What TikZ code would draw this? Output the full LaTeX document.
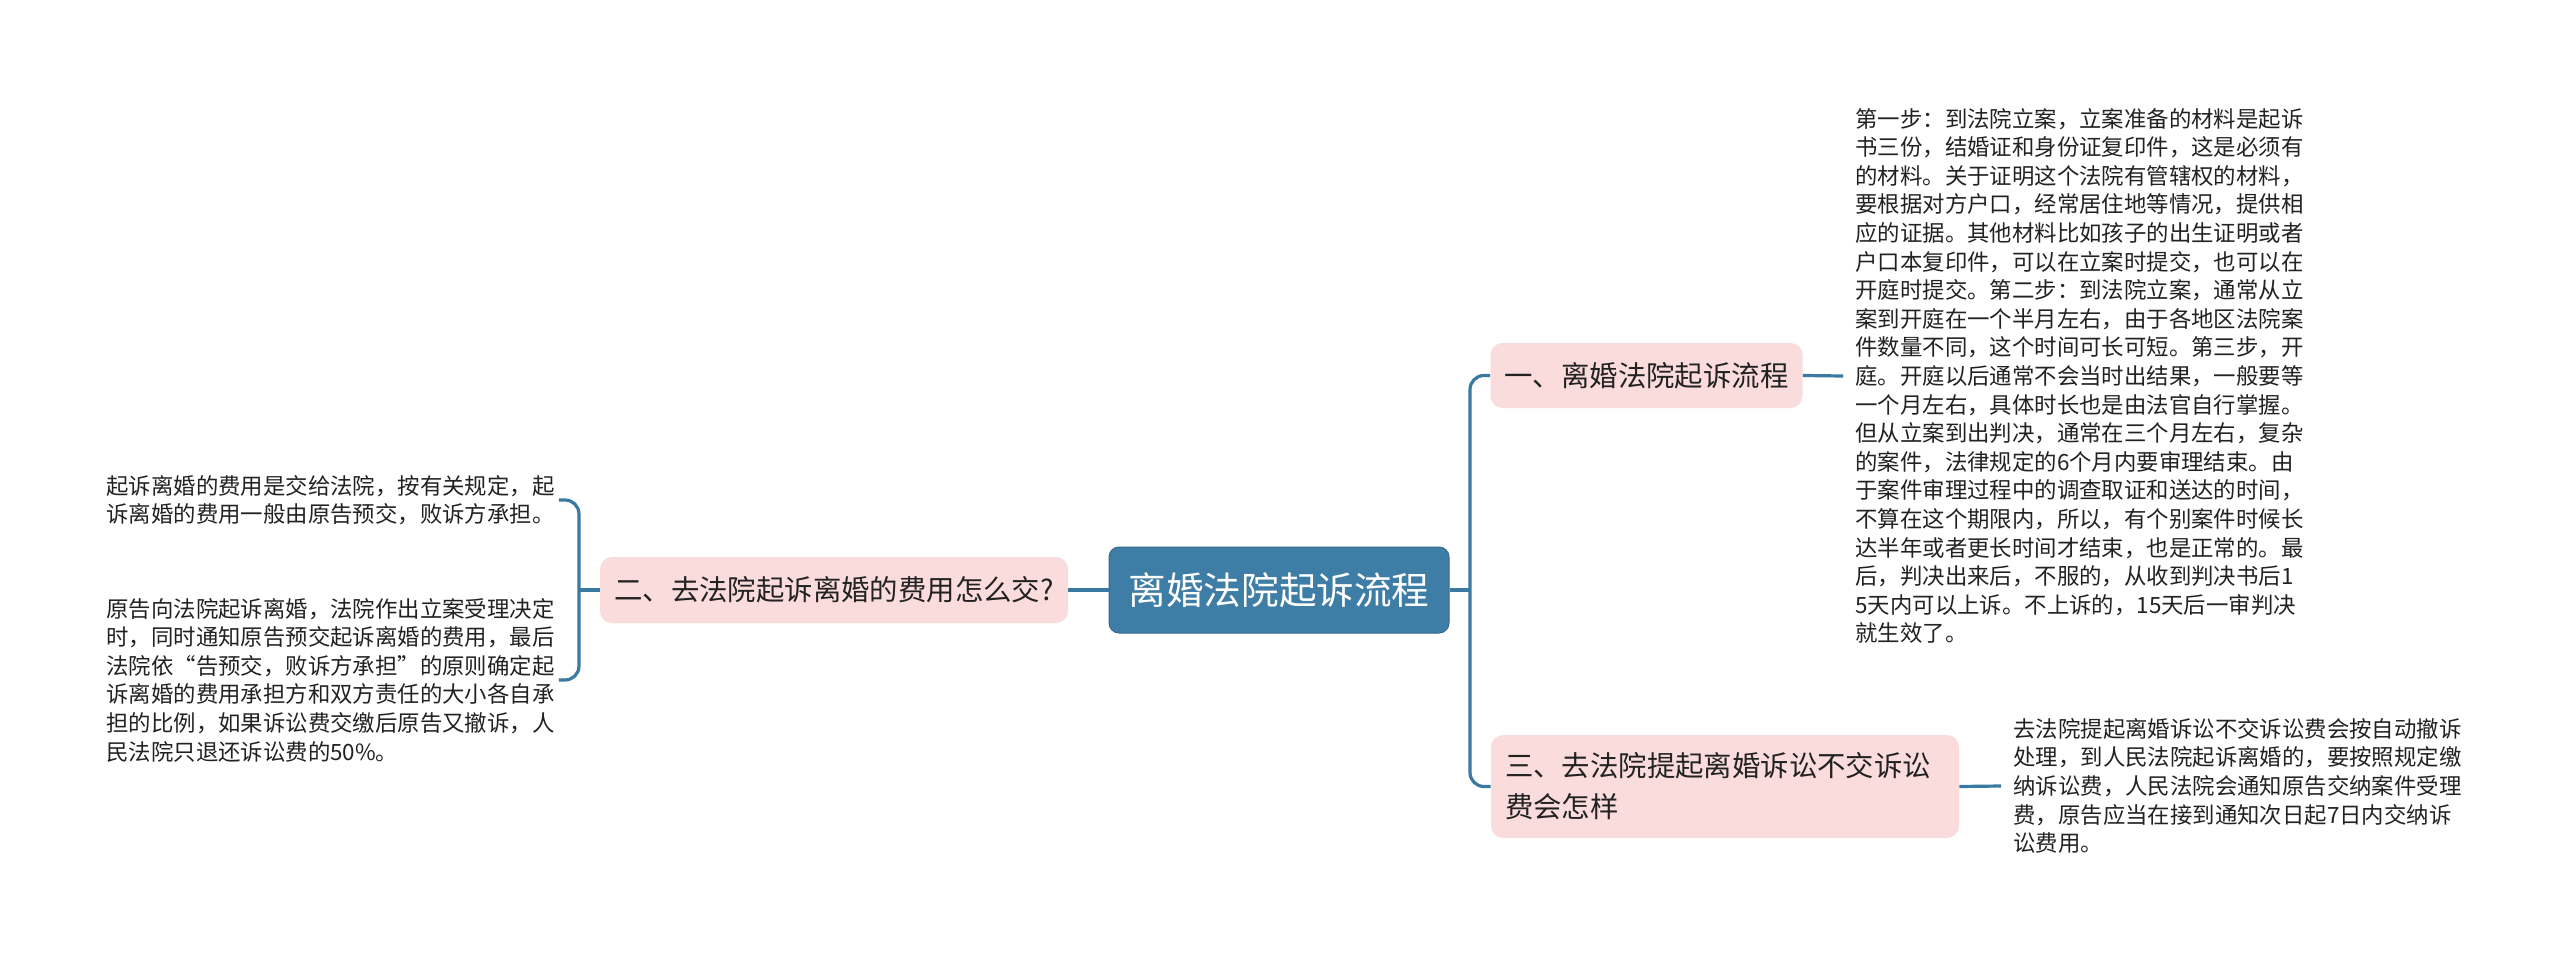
\documentclass[tikz,border=0pt]{standalone}
\usepackage{fontspec}
\setmainfont{Noto Sans CJK SC}
\definecolor{rootblue}{HTML}{3E7DA5}
\definecolor{linecol}{HTML}{3A79A2}
\definecolor{pinkfill}{HTML}{FADCDC}
\definecolor{txt}{HTML}{222222}
\begin{document}
\begin{tikzpicture}[x=0.5pt,y=-0.5pt,
  conn/.style={draw=linecol,line width=1.6pt,rounded corners=7pt},
  rootbox/.style={fill=rootblue,draw=rootblue!85!black,line width=0.5pt,rounded corners=5pt,text=white,
    font=\fontsize{18.8pt}{22pt}\selectfont,inner sep=0pt},
  branchbox/.style={fill=pinkfill,rounded corners=6pt,text=txt,
    font=\fontsize{14.2pt}{20.5pt}\selectfont,inner xsep=7pt,inner ysep=0pt},
  leaf/.style={text=txt,font=\fontsize{11.2pt}{14.3pt}\selectfont,align=left,text width=226pt,inner sep=0pt}
]
\useasboundingbox (0,0) rectangle (2560,963);
\fill[white] (0,0) rectangle (2560,963);

\node[rootbox, minimum width=170pt, minimum height=43pt] (root) at (1279,590) {离婚法院起诉流程};

\node[branchbox, minimum width=155.5pt, minimum height=32.5pt] (b1) at (1646.5,375.5) {一、离婚法院起诉流程};
\node[branchbox, minimum width=234pt, minimum height=33pt] (b2) at (834,590) {二、去法院起诉离婚的费用怎么交?};
\node[branchbox, text width=220pt, align=left, minimum height=51.5pt] (b3) at (1725,786.5) {三、去法院提起离婚诉讼不交诉讼\\费会怎样};

\node[leaf, anchor=west] (l1) at (1855,376) {第一步：到法院立案，立案准备的材料是起诉\\
书三份，结婚证和身份证复印件，这是必须有\\
的材料。关于证明这个法院有管辖权的材料，\\
要根据对方户口，经常居住地等情况，提供相\\
应的证据。其他材料比如孩子的出生证明或者\\
户口本复印件，可以在立案时提交，也可以在\\
开庭时提交。第二步：到法院立案，通常从立\\
案到开庭在一个半月左右，由于各地区法院案\\
件数量不同，这个时间可长可短。第三步，开\\
庭。开庭以后通常不会当时出结果，一般要等\\
一个月左右，具体时长也是由法官自行掌握。\\
但从立案到出判决，通常在三个月左右，复杂\\
的案件，法律规定的6个月内要审理结束。由\\
于案件审理过程中的调查取证和送达的时间，\\
不算在这个期限内，所以，有个别案件时候长\\
达半年或者更长时间才结束，也是正常的。最\\
后，判决出来后，不服的，从收到判决书后1\\
5天内可以上诉。不上诉的，15天后一审判决\\
就生效了。};

\node[leaf, anchor=west] (l3) at (2013,786) {去法院提起离婚诉讼不交诉讼费会按自动撤诉\\
处理，到人民法院起诉离婚的，要按照规定缴\\
纳诉讼费，人民法院会通知原告交纳案件受理\\
费，原告应当在接到通知次日起7日内交纳诉\\
讼费用。};

\node[leaf, anchor=west] (la) at (106,500) {起诉离婚的费用是交给法院，按有关规定，起\\
诉离婚的费用一般由原告预交，败诉方承担。};

\node[leaf, anchor=west] (lb) at (106,680) {原告向法院起诉离婚，法院作出立案受理决定\\
时，同时通知原告预交起诉离婚的费用，最后\\
法院依“告预交，败诉方承担”的原则确定起\\
诉离婚的费用承担方和双方责任的大小各自承\\
担的比例，如果诉讼费交缴后原告又撤诉，人\\
民法院只退还诉讼费的50\%。};

\coordinate (jr) at (1470,590);
\coordinate (jl) at (579,590);

\draw[conn] (root.east) -- (jr);
\draw[conn] (b1.west) -| (jr) |- (b3.west);
\draw[conn] (b1.east) -- ([xshift=-6pt]l1.west);
\draw[conn] (b3.east) -- ([xshift=-6pt]l3.west);
\draw[conn] (root.west) -- (b2.east);
\draw[conn] (b2.west) -- (jl);
\draw[conn] (la.east) -| (jl) |- (lb.east);
\end{tikzpicture}
\end{document}
